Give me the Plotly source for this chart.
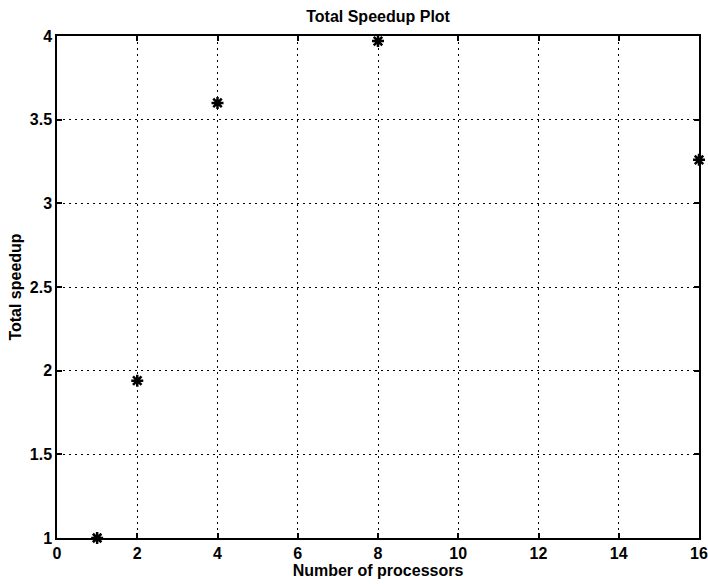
import plotly.graph_objects as go

# Measured speedup against processor count
processors = [1, 2, 4, 8, 16]
speedup = [1.0, 1.94, 3.60, 3.97, 3.26]

x_ticks = [0, 2, 4, 6, 8, 10, 12, 14, 16]
y_ticks = [1, 1.5, 2, 2.5, 3, 3.5, 4]
y_tick_labels = ["1", "1.5", "2", "2.5", "3", "3.5", "4"]

FONT = "Liberation Sans, Arial, Helvetica, sans-serif"

fig = go.Figure()
fig.add_trace(go.Scatter(
    x=processors,
    y=speedup,
    mode="markers",
    marker=dict(symbol="asterisk-open", size=10, color="black",
                line=dict(color="black", width=2.5)),
    cliponaxis=False,
    showlegend=False,
))

axis_common = dict(
    showline=True, linecolor="black", linewidth=1.5, mirror="ticks",
    ticks="inside", ticklen=5, tickcolor="black", tickwidth=1.5,
    showgrid=True, gridcolor="black", gridwidth=1.3, griddash="2px,4px",
    zeroline=False, automargin=False,
    tickfont=dict(family=FONT, size=16, color="black"),
)

fig.update_layout(
    width=708, height=584,
    margin=dict(l=57, r=9, t=36, b=46),
    paper_bgcolor="white", plot_bgcolor="white",
    title=dict(text="<b>Total Speedup Plot</b>", x=0.534, xanchor="center", y=0.972, yanchor="middle",
               font=dict(family=FONT, size=16, color="black")),
    xaxis=dict(range=[0, 16], tickvals=x_ticks,
               ticktext=["<b>%s</b>" % v for v in x_ticks],
               title=dict(text="<b>Number of processors</b>", standoff=2,
                          font=dict(family=FONT, size=16, color="black")),
               **axis_common),
    yaxis=dict(range=[1, 4], tickvals=y_ticks,
               ticktext=["<b>%s</b>" % t for t in y_tick_labels],
               title=dict(text="<b>Total speedup</b>", standoff=4,
                          font=dict(family=FONT, size=16, color="black")),
               **axis_common),
)

fig.write_html("out.html")
